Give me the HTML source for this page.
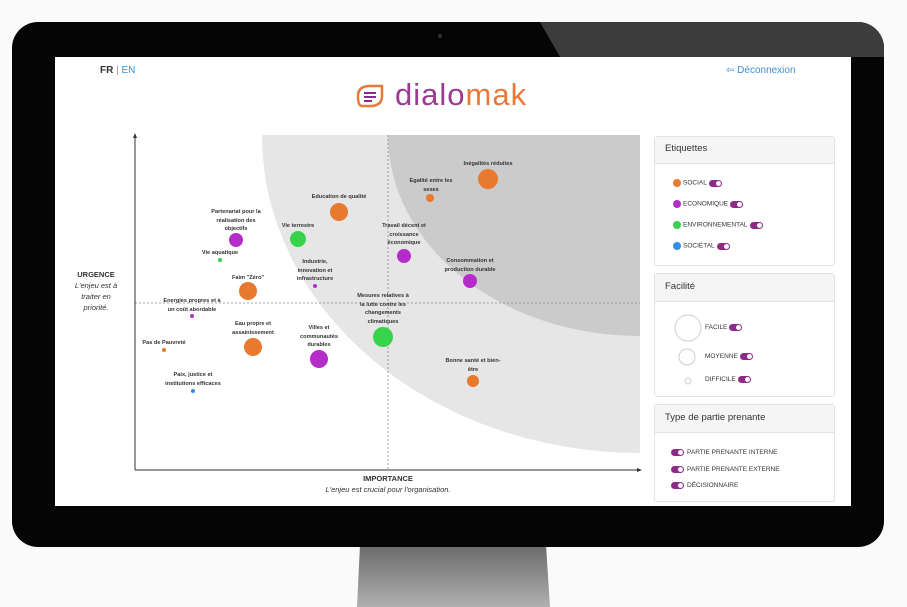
<!DOCTYPE html>
<html><head><meta charset="utf-8"><style>
body{margin:0;width:907px;height:607px;overflow:hidden;background:#fafafa;font-family:"Liberation Sans",sans-serif;position:relative}
.a{position:absolute}
.bez{left:12px;top:22px;width:872px;height:525px;background:#050505;border-radius:26px;overflow:hidden}
.scr{left:55px;top:57px;width:796px;height:449px;background:#fff}
.lbl{position:absolute;font-size:5.6px;font-weight:bold;color:#333;text-align:center;line-height:8.5px;transform:translateX(-50%);white-space:nowrap}
.panel{position:absolute;left:654px;width:179px;border:1px solid #e2e2e2;border-radius:3px;background:#fff}
.ph{background:#f5f5f5;border-bottom:1px solid #e2e2e2;font-size:9.5px;color:#333;padding-left:10px}
.it{position:absolute;font-size:6.5px;color:#333;white-space:nowrap}
.tg{display:inline-block;width:13px;height:7px;border-radius:4px;background:#8e2a87;position:relative;vertical-align:middle;margin-left:2px}
.tg:after{content:"";position:absolute;right:1px;top:1px;width:5px;height:5px;border-radius:50%;background:#fff}
.dot{display:inline-block;width:8px;height:8px;border-radius:50%;vertical-align:middle;margin-right:2px}
</style></head><body>
<div class="a" style="left:357px;top:545px;width:193px;height:62px;background:linear-gradient(#6a6a6a,#b0b0b0);clip-path:polygon(3px 0,189px 0,193px 62px,0 62px)"></div>
<div class="a bez">
<div class="a" style="left:528px;top:0;width:344px;height:35px;background:#3c3c3c;clip-path:polygon(0 0,344px 0,344px 35px,20px 35px)"></div>
<div class="a" style="left:426px;top:12px;width:4px;height:4px;border-radius:50%;background:#333"></div>
</div>
<div class="a scr"></div>
<div class="a" style="left:100px;top:65px;font-size:10px;color:#333"><b>FR</b> <span style="color:#999">|</span> <span style="color:#3a8fd6">EN</span></div>
<div class="a" style="left:726px;top:65px;font-size:10px;color:#3a8fd6">⇦ Déconnexion</div>
<svg class="a" style="left:354px;top:82px" width="32" height="28"><path d="M4 14 Q4 4 16 4 L28 4 L28 14 Q28 24 16 24 L8 24 Q4 24 4 14Z" fill="none" stroke="#e8793a" stroke-width="2.5"/><path d="M10 11h12M10 15h12M10 19h8" stroke="#8e2a87" stroke-width="2"/></svg>
<div class="a" style="left:395px;top:76px;font-size:31px;letter-spacing:1px;line-height:38px"><span style="color:#9b3a8e">dialo</span><span style="color:#e8793a">mak</span></div>
<svg class="a" style="left:0;top:0" width="907" height="607">
<path d="M262,135 A378,318 0 0 0 640,453 L640,135 Z" fill="#e6e6e6"/>
<path d="M388,135 A252,201 0 0 0 640,336 L640,135 Z" fill="#cbcbcb"/>
<line x1="388" y1="135" x2="388" y2="470" stroke="#888" stroke-width="0.8" stroke-dasharray="2,2"/>
<line x1="135" y1="303" x2="640" y2="303" stroke="#888" stroke-width="0.8" stroke-dasharray="2,2"/>
<line x1="135" y1="135" x2="135" y2="470" stroke="#333"/>
<line x1="135" y1="470" x2="640" y2="470" stroke="#333"/>
<path d="M133,138 L135,133 L137,138Z M637,468 L642,470 L637,472Z" fill="#333"/>
<g>
<circle cx="488" cy="179" r="10" fill="#e8792e"/>
<circle cx="430" cy="198" r="4" fill="#e8792e"/>
<circle cx="339" cy="212" r="9" fill="#e8792e"/>
<circle cx="236" cy="240" r="7" fill="#b52ccb"/>
<circle cx="298" cy="239" r="8" fill="#37d34a"/>
<circle cx="220" cy="260" r="2" fill="#37d34a"/>
<circle cx="404" cy="256" r="7" fill="#b52ccb"/>
<circle cx="470" cy="281" r="7" fill="#b52ccb"/>
<circle cx="315" cy="286" r="2" fill="#b52ccb"/>
<circle cx="248" cy="291" r="9" fill="#e8792e"/>
<circle cx="192" cy="316" r="2" fill="#b52ccb"/>
<circle cx="383" cy="337" r="10" fill="#37d34a"/>
<circle cx="253" cy="347" r="9" fill="#e8792e"/>
<circle cx="319" cy="359" r="9" fill="#b52ccb"/>
<circle cx="164" cy="350" r="2" fill="#e8792e"/>
<circle cx="473" cy="381" r="6" fill="#e8792e"/>
<circle cx="193" cy="391" r="2" fill="#2e8fe8"/>
</g>
</svg>
<div class="lbl" style="left:488px;top:160px">Inégalités réduites</div>
<div class="lbl" style="left:431px;top:177px">Egalité entre les<br>sexes</div>
<div class="lbl" style="left:339px;top:193px">Education de qualité</div>
<div class="lbl" style="left:236px;top:208px">Partenariat pour la<br>réalisation des<br>objectifs</div>
<div class="lbl" style="left:298px;top:222px">Vie terrestre</div>
<div class="lbl" style="left:220px;top:249px">Vie aquatique</div>
<div class="lbl" style="left:404px;top:222px">Travail décent et<br>croissance<br>économique</div>
<div class="lbl" style="left:470px;top:257px">Consommation et<br>production durable</div>
<div class="lbl" style="left:315px;top:258px">Industrie,<br>innovation et<br>infrastructure</div>
<div class="lbl" style="left:248px;top:274px">Faim "Zéro"</div>
<div class="lbl" style="left:192px;top:297px">Energies propres et à<br>un coût abordable</div>
<div class="lbl" style="left:383px;top:292px">Mesures relatives à<br>la lutte contre les<br>changements<br>climatiques</div>
<div class="lbl" style="left:253px;top:320px">Eau propre et<br>assainissement</div>
<div class="lbl" style="left:319px;top:324px">Villes et<br>communautés<br>durables</div>
<div class="lbl" style="left:164px;top:339px">Pas de Pauvreté</div>
<div class="lbl" style="left:473px;top:357px">Bonne santé et bien-<br>être</div>
<div class="lbl" style="left:193px;top:371px">Paix, justice et<br>institutions efficaces</div>
<div class="a" style="left:70px;top:269px;width:52px;text-align:center;font-size:7.5px;color:#333;line-height:11px"><b>URGENCE</b><br><i>L'enjeu est à traiter en priorité.</i></div>
<div class="a" style="left:300px;top:473px;width:176px;text-align:center;font-size:7.5px;color:#333;line-height:11px"><b>IMPORTANCE</b><br><i>L'enjeu est crucial pour l'organisation.</i></div>
<div class="panel" style="top:136px;height:128px"><div class="ph" style="height:26px;line-height:24px">Etiquettes</div></div>
<div class="panel" style="top:273px;height:122px"><div class="ph" style="height:27px;line-height:25px">Facilité</div></div>
<div class="panel" style="top:404px;height:96px"><div class="ph" style="height:27px;line-height:25px">Type de partie prenante</div></div>
<svg class="a" style="left:0;top:0" width="907" height="607">
<circle cx="688" cy="328" r="13" fill="none" stroke="#ccc"/>
<circle cx="687" cy="357" r="8" fill="none" stroke="#ccc"/>
<circle cx="688" cy="381" r="3" fill="none" stroke="#ccc"/>
</svg>
<div class="it" style="left:673px;top:179px"><span class="dot" style="background:#e8792e"></span>SOCIAL<span class="tg"></span></div>
<div class="it" style="left:673px;top:200px"><span class="dot" style="background:#b52ccb"></span>ECONOMIQUE<span class="tg"></span></div>
<div class="it" style="left:673px;top:221px"><span class="dot" style="background:#37d34a"></span>ENVIRONNEMENTAL<span class="tg"></span></div>
<div class="it" style="left:673px;top:242px"><span class="dot" style="background:#2e8fe8"></span>SOCIÉTAL<span class="tg"></span></div>
<div class="it" style="left:705px;top:324px">FACILE<span class="tg"></span></div>
<div class="it" style="left:705px;top:353px">MOYENNE<span class="tg"></span></div>
<div class="it" style="left:705px;top:376px">DIFFICILE<span class="tg"></span></div>
<div class="it" style="left:671px;top:449px"><span class="tg" style="margin:0 3px 0 0"></span>PARTIE PRENANTE INTERNE</div>
<div class="it" style="left:671px;top:466px"><span class="tg" style="margin:0 3px 0 0"></span>PARTIE PRENANTE EXTERNE</div>
<div class="it" style="left:671px;top:482px"><span class="tg" style="margin:0 3px 0 0"></span>DÉCISIONNAIRE</div>
</body></html>
